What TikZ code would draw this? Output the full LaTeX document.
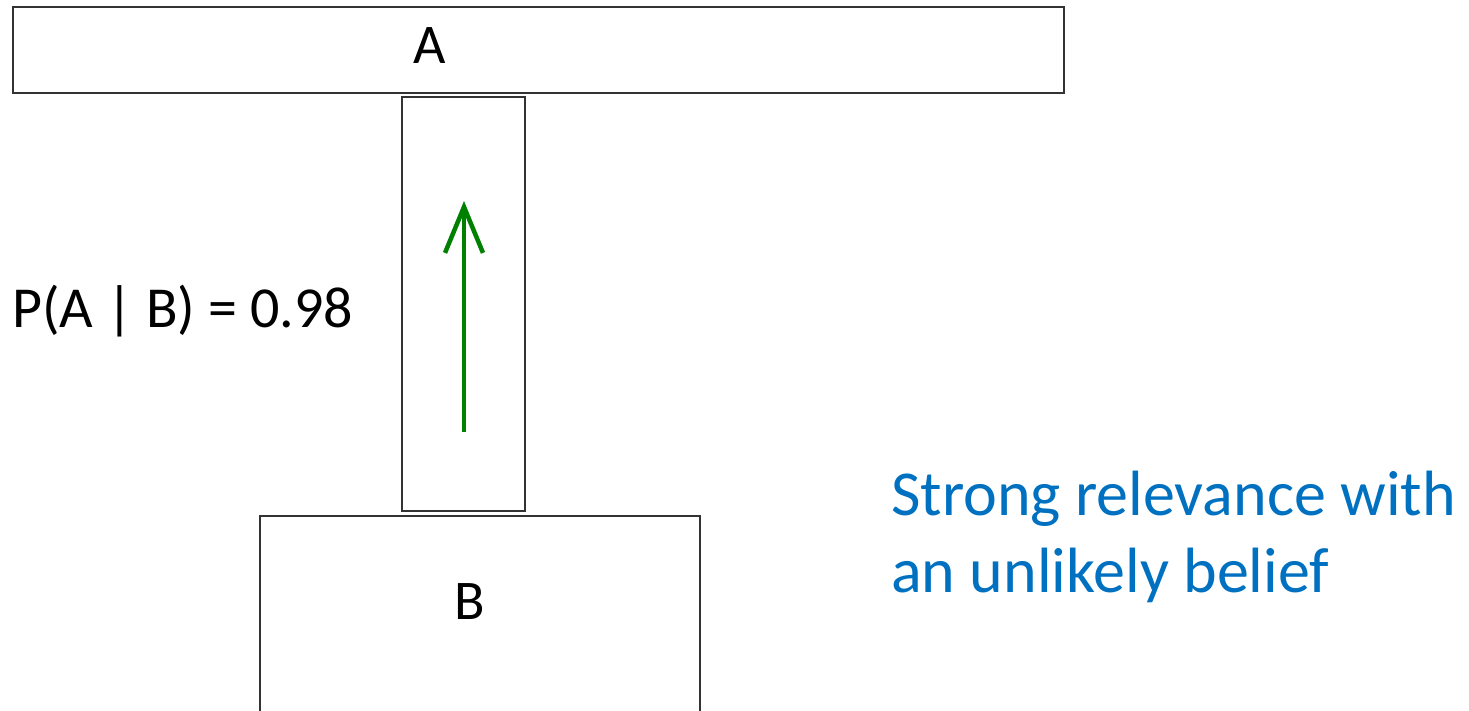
\documentclass[tikz,border=0pt]{standalone}
\usepackage{fontspec}
\setmainfont{Carlito}
\usetikzlibrary{arrows.meta}
\definecolor{noteblue}{HTML}{0070C0}
\definecolor{arrowgreen}{HTML}{008000}
\tikzset{
  frame/.style={draw=black!80, line width=1.6pt, inner sep=0pt},
  lbl/.style={inner sep=0pt, font=\fontsize{56}{67}\selectfont},
  note/.style={inner sep=0pt, text=noteblue, align=left, font=\fontsize{64}{77}\selectfont},
  link/.style={draw=arrowgreen, line width=4.5pt, -{Straight Barb[length=46pt,width=38pt,line width=4.5pt]}}
}
\begin{document}
\begin{tikzpicture}[x=1pt,y=-1pt]
  \useasboundingbox (0,0) rectangle (1469,710);
  \begin{scope}
    \clip (0,0) rectangle (1469,710);
    % event boxes
    \node[frame, minimum width=1051pt, minimum height=86pt] (boxA) at (538.5,50) {};
    \node[frame, minimum width=123pt, minimum height=414pt] (boxAB) at (463.5,304) {};
    \node[frame, minimum width=440pt, minimum height=220pt] (boxB) at (480,626) {};
  \end{scope}
  \node[lbl] (labA) at (430,46) {A};
  \node[lbl] (labB) at (470,602) {B};
  % conditional link from B to A
  \coordinate (tail) at (464,432);
  \coordinate (head) at (464,201);
  \draw[link] (tail) -- (head);
  \node[lbl, anchor=base west, font=\fontsize{58}{70}\selectfont] (prob) at (12,327) {P(A | B) = 0.98};
  \node[note, anchor=base west] (note) at (891,592) {Strong relevance with\\an unlikely belief};
\end{tikzpicture}
\end{document}
